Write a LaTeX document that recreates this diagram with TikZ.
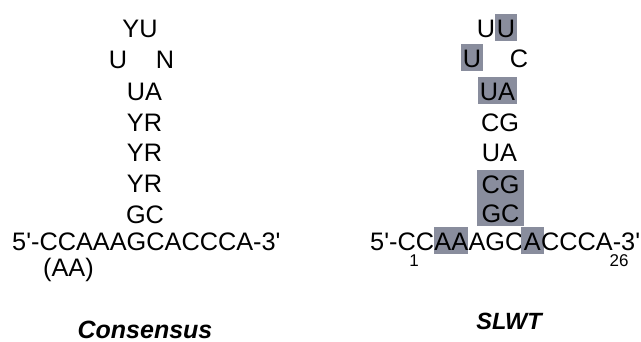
\documentclass[tikz,border=0pt]{standalone}
\usepackage{fontspec}
\setmainfont{Liberation Sans}
\usepackage{tikz}
\usetikzlibrary{positioning}

\definecolor{hlgray}{RGB}{137,141,157}
\newcommand{\ap}{\textquotesingle}

\begin{document}
\begin{tikzpicture}[x = 1pt, y = -1pt,
    every node/.style = { inner sep = 0pt, anchor = base, font = \fontsize{25.3}{30}\selectfont, text height = 23pt, text depth = 4pt },
    hl/.style = { fill = hlgray, inner xsep = 2pt },
    num/.style = { font = \fontsize{17}{20}\selectfont, text height = , text depth = },
    title/.style = { font = \fontsize{25}{30}\selectfont\bfseries\itshape, text height = , text depth = }]
      \useasboundingbox (0,0) rectangle (641,341);

      % consensus hairpin
      \node (yu) at (140,37) {YU};
      \node (lu) at (118,68) {U};
      \node (ln) at (165,68) {N};
      \node (lp1) at (144.5,100) {UA};
      \node (lp2) at (144.5,131) {YR};
      \node (lp3) at (144.5,161) {YR};
      \node (lp4) at (144.5,192) {YR};
      \node (lp5) at (145,223) {GC};
      \node [anchor = base west] (lseq) at (12,250) {5\ap-CCAAAGCACCCA-3\ap};
      \node [anchor = base west] (laa) at (43,276) {(AA)};
      \node [title] (cons) at (145,338) {Consensus};

      % SLWT hairpin
      \node (ru1) at (486,37) {U};
      \node [hl] (ru2) at (506,37) {U};
      \node [hl] (ru3) at (472,67) {U};
      \node (rc) at (519,67) {C};
      \node [hl] (rp1) at (497.5,100) {UA};
      \node (rp2) at (500,131) {CG};
      \node (rp3) at (499.5,161) {UA};
      \node [hl, minimum width = 47pt, text depth = 6pt] (rp4) at (500.5,193) {CG};
      \node [hl, minimum width = 47pt] (rp5) at (500.5,222) {GC};
      \node [anchor = base west] (s1) at (370,250) {5\ap-CC};
      \node [hl, inner xsep = 0pt, right = 0pt of s1] (s2) {AA};
      \node [right = 0pt of s2] (s3) {AGC};
      \node [hl, inner xsep = 3pt, right = -3pt of s3] (s4) {A};
      \node [right = -3pt of s4] (s5) {CCCA-3\ap};
      \node [num] (n1) at (414,266) {1};
      \node [num] (n26) at (619,266) {26};
      \node [title, font = \fontsize{23.5}{28}\selectfont\bfseries\itshape] (slwt) at (509,329) {SLWT};

    \end{tikzpicture}
\end{document}
